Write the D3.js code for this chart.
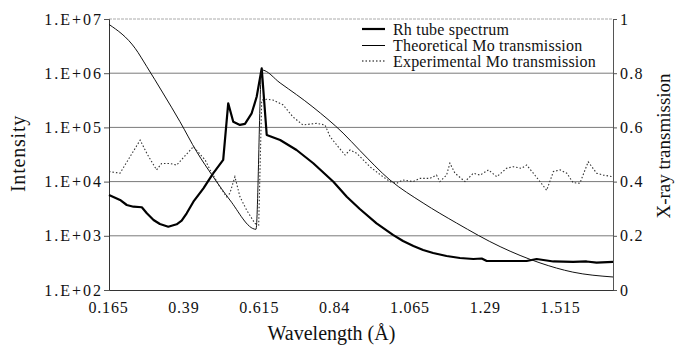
<!DOCTYPE html>
<html><head><meta charset="utf-8">
<script src="https://cdn.jsdelivr.net/npm/d3@7"></script>
<style>
body{margin:0;background:#fff;}
</style></head>
<body><svg id="c" width="676" height="345"></svg>
<script>
// ---- data ----
const xTicks = [0.165, 0.39, 0.615, 0.84, 1.065, 1.29, 1.515];
const xTickLabels = ["0.165", "0.39", "0.615", "0.84", "1.065", "1.29", "1.515"];
const leftTicks = [1e2, 1e3, 1e4, 1e5, 1e6, 1e7];
const leftTickLabels = ["1.E+02", "1.E+03", "1.E+04", "1.E+05", "1.E+06", "1.E+07"];
const rightTicks = [0, 0.2, 0.4, 0.6, 0.8, 1];
const rightTickLabels = ["0", "0.2", "0.4", "0.6", "0.8", "1"];
const seriesNames = ["Rh tube spectrum", "Theoretical Mo transmission", "Experimental Mo transmission"];

const rhWave = [0.165,0.198,0.218,0.238,0.263,0.278,0.298,0.317,0.342,0.367,0.382,0.397,0.417,0.447,0.476,0.506,0.521,0.536,0.556,0.571,0.591,0.606,0.621,0.636,0.676,0.725,0.775,0.835,0.875,0.914,0.964,1.013,1.043,1.074,1.103,1.133,1.173,1.213,1.253,1.278,1.293,1.352,1.412,1.442,1.462,1.492,1.551,1.591,1.621,1.67];
const rhIntensity = [5660,4580,3700,3440,3360,2600,1960,1650,1470,1630,1900,2600,4260,7520,14200,25100,279000,127000,111000,116000,182000,368000,1230000,72400,58600,38300,21800,9950,5260,3120,1700,1040,800,650,547,482,424,389,373,381,343,343,343,373,358,336,329,336,321,329];

const theoWave = [0.165,0.243,0.278,0.326,0.377,0.427,0.476,0.526,0.604,0.621,0.676,0.774,0.864,0.914,1.004,1.103,1.203,1.333,1.452,1.550,1.67];
const theoTrans = [0.98,0.892,0.824,0.727,0.621,0.510,0.418,0.332,0.224,0.812,0.764,0.675,0.579,0.515,0.406,0.321,0.247,0.160,0.100,0.066,0.048];

const expWave = [0.165,0.198,0.228,0.258,0.278,0.307,0.322,0.347,0.367,0.417,0.452,0.467,0.496,0.516,0.526,0.541,0.556,0.576,0.601,0.612,0.621,0.636,0.655,0.685,0.714,0.744,0.785,0.810,0.825,0.849,0.870,0.885,0.905,0.944,0.983,1.004,1.024,1.043,1.073,1.094,1.123,1.143,1.153,1.173,1.183,1.198,1.228,1.253,1.273,1.298,1.323,1.352,1.372,1.397,1.412,1.432,1.452,1.472,1.492,1.512,1.532,1.551,1.571,1.596,1.621,1.641,1.67];
const expTrans = [0.437,0.431,0.492,0.553,0.504,0.443,0.467,0.467,0.461,0.529,0.480,0.443,0.381,0.344,0.357,0.418,0.344,0.295,0.245,0.240,0.701,0.704,0.701,0.683,0.639,0.609,0.615,0.609,0.566,0.529,0.498,0.517,0.504,0.455,0.418,0.400,0.394,0.406,0.400,0.412,0.412,0.424,0.400,0.424,0.468,0.431,0.400,0.431,0.424,0.443,0.418,0.449,0.455,0.449,0.461,0.431,0.400,0.368,0.437,0.443,0.431,0.396,0.394,0.473,0.431,0.424,0.418];

// ---- layout ----
const FONT = '"Liberation Serif", Tinos, "Times New Roman", Times, "Nimbus Roman", "DejaVu Serif", "Noto Serif", serif';
const L = 109, R = 613, T = 19, B = 290;
const svg = d3.select("#c");
const x = d3.scaleLinear().domain([0.165, 1.67]).range([L, R]);
const yL = d3.scaleLog().domain([1e2, 1e7]).range([B, T]);
const yR = d3.scaleLinear().domain([0, 1]).range([B, T]);

// gridlines
svg.append("g").selectAll("line").data(leftTicks.slice(1)).join("line")
  .attr("x1", L).attr("x2", R)
  .attr("y1", d => yL(d)).attr("y2", d => yL(d))
  .attr("stroke", (d) => d === 1e7 ? "#aaa" : "#7a7a7a")
  .attr("stroke-width", 1)
  .attr("stroke-dasharray", d => d === 1e7 ? "3,1" : null);

// left axis
const axL = svg.append("g").attr("transform", `translate(${L},0)`)
  .call(d3.axisLeft(yL).tickValues(leftTicks).tickFormat((d, i) => leftTickLabels[i]).tickSize(5).tickPadding(3));
axL.select(".domain").attr("stroke", "#333");
axL.selectAll(".tick line").attr("stroke", "#555");
axL.selectAll("text").style("font-family", FONT).style("font-size", "16px").style("letter-spacing", "2px")
  .attr("fill", "#111").attr("dx", "2px");

// right axis
const axR = svg.append("g").attr("transform", `translate(${R},0)`)
  .call(d3.axisRight(yR).tickValues(rightTicks).tickFormat((d, i) => rightTickLabels[i]).tickSize(4).tickPadding(3));
axR.select(".domain").attr("stroke", "#555");
axR.selectAll(".tick line").attr("stroke", "#555");
axR.selectAll("text").style("font-family", FONT).style("font-size", "16px").style("letter-spacing", "1.2px")
  .attr("fill", "#111");

// bottom axis
const axB = svg.append("g").attr("transform", `translate(0,${B})`)
  .call(d3.axisBottom(x).tickValues(xTicks).tickFormat((d, i) => xTickLabels[i]).tickSize(0).tickPadding(12));
axB.select(".domain").attr("stroke", "#333");
axB.selectAll("text").style("font-family", FONT).style("font-size", "16px").style("letter-spacing", "0.8px")
  .attr("fill", "#111").attr("dx", "-1px");

// series
const rhLine = d3.line().x((d, i) => x(rhWave[i])).y(d => yL(d));
svg.append("path").datum(rhIntensity).attr("d", rhLine)
  .attr("fill", "none").attr("stroke", "#000").attr("stroke-width", 2.2).attr("stroke-linejoin", "round");

const theoLine = d3.line().x((d, i) => x(theoWave[i])).y(d => yR(d)).curve(d3.curveMonotoneX);
svg.append("path").datum(theoTrans).attr("d", theoLine)
  .attr("fill", "none").attr("stroke", "#111").attr("stroke-width", 1);

const expLine = d3.line().x((d, i) => x(expWave[i])).y(d => yR(d));
svg.append("path").datum(expTrans).attr("d", expLine)
  .attr("fill", "none").attr("stroke", "#333").attr("stroke-width", 1.1).attr("stroke-dasharray", "1.5,2");

// legend
const legRows = [29, 45.5, 61];
const leg = svg.append("g");
seriesNames.forEach((name, i) => {
  const ln = leg.append("line").attr("x1", 362).attr("x2", 385).attr("y1", legRows[i]).attr("y2", legRows[i]).attr("stroke", "#000");
  if (i === 0) ln.attr("stroke-width", 2.2);
  if (i === 1) ln.attr("stroke-width", 1);
  if (i === 2) ln.attr("stroke-width", 1.1).attr("stroke-dasharray", "1.5,2");
  leg.append("text").attr("x", 393).attr("y", legRows[i]).attr("dy", "0.35em")
    .style("font-family", FONT).style("font-size", "16px").style("letter-spacing", "0.2px").attr("fill", "#111").text(name);
});

// axis titles
svg.append("text").attr("transform", "translate(25,153.5) rotate(-90)")
  .attr("text-anchor", "middle").style("font-family", FONT).style("font-size", "20px").style("letter-spacing", "0.8px")
  .attr("fill", "#111").text("Intensity");
svg.append("text").attr("transform", "translate(670,146) rotate(-90)")
  .attr("text-anchor", "middle").style("font-family", FONT).style("font-size", "19px")
  .attr("fill", "#111").text("X-ray transmission");
svg.append("text").attr("x", 331.5).attr("y", 340)
  .attr("text-anchor", "middle").style("font-family", FONT).style("font-size", "20px")
  .attr("fill", "#111").text("Wavelength (Å)");
</script></body></html>
